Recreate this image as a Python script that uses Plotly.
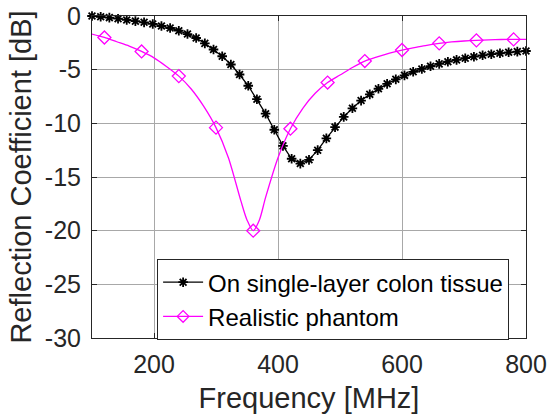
import plotly.graph_objects as go

# ---- data ----
colon_freq = [100 + 14 * i for i in range(51)]
colon_db = [0.0, -0.07, -0.15, -0.25, -0.37, -0.48, -0.59, -0.74, -0.93, -1.12,
            -1.37, -1.68, -2.05, -2.55, -3.12, -3.75, -4.52, -5.45, -6.5, -7.75,
            -9.1, -10.6, -12.1, -13.3, -13.75, -13.4, -12.5, -11.4, -10.35, -9.4,
            -8.6, -7.88, -7.3, -6.78, -6.32, -5.9, -5.53, -5.2, -4.93, -4.68,
            -4.46, -4.26, -4.09, -3.93, -3.79, -3.66, -3.56, -3.47, -3.38, -3.32,
            -3.26]

phantom_line_freq = [100, 120, 140, 160, 180, 200, 220, 240, 260, 280, 300, 320,
                     340, 350, 360, 370, 380, 400, 420, 440, 460, 480, 500, 520,
                     540, 560, 580, 600, 620, 640, 660, 680, 700, 720, 740, 760,
                     780, 800]
phantom_line_db = [-1.68, -2.0, -2.4, -2.8, -3.3, -3.9, -4.7, -5.6, -6.8, -8.4,
                   -10.4, -13.2, -17.2, -19.0, -20.0, -19.0, -16.9, -13.2, -10.5,
                   -8.6, -7.2, -6.2, -5.5, -4.8, -4.2, -3.8, -3.45, -3.17, -2.95,
                   -2.73, -2.55, -2.42, -2.33, -2.27, -2.22, -2.19, -2.18, -2.17]

phantom_mark_freq = [120, 180, 240, 300, 360, 420, 480, 540, 600, 660, 720, 780]
phantom_mark_db = [-2.0, -3.3, -5.6, -10.4, -20.0, -10.5, -6.2, -4.2, -3.17,
                   -2.55, -2.27, -2.18]

x_ticks = [200, 400, 600, 800]
x_tick_labels = ["200", "400", "600", "800"]
y_ticks = [0, -5, -10, -15, -20, -25, -30]
y_tick_labels = ["0", "-5", "-10", "-15", "-20", "-25", "-30"]

series_names = ["On single-layer colon tissue", "Realistic phantom"]

FONT = "Liberation Sans, Arial, Helvetica, sans-serif"
AX = "#262626"

fig = go.Figure()

fig.add_trace(go.Scatter(
    x=colon_freq, y=colon_db, mode="lines+markers", name=series_names[0],
    line=dict(color="black", width=1.3),
    marker=dict(symbol="asterisk-open", size=8, color="black",
                line=dict(color="black", width=1.8)),
    cliponaxis=False))

fig.add_trace(go.Scatter(
    x=phantom_line_freq, y=phantom_line_db, mode="lines", showlegend=False,
    line=dict(color="#FF00FF", width=1.3, shape="spline", smoothing=0.8),
    hoverinfo="skip"))

fig.add_trace(go.Scatter(
    x=phantom_mark_freq, y=phantom_mark_db, mode="markers", showlegend=False,
    marker=dict(symbol="diamond-open", size=10, color="#FF00FF",
                line=dict(color="#FF00FF", width=1.3)),
    cliponaxis=False))

# legend entry for the phantom (line + diamond)
fig.add_trace(go.Scatter(
    x=[None], y=[None], mode="lines+markers", name=series_names[1],
    line=dict(color="#FF00FF", width=1.3),
    marker=dict(symbol="diamond-open", size=9, color="#FF00FF",
                line=dict(color="#FF00FF", width=1.3))))

axis_common = dict(
    showline=True, linecolor=AX, linewidth=1, mirror="ticks",
    ticks="inside", ticklen=5, tickcolor=AX, tickwidth=1,
    showgrid=True, gridcolor="#a8a8a8", gridwidth=1,
    zeroline=False, automargin=False,
    tickfont=dict(family=FONT, size=25, color=AX),
)

fig.update_layout(
    width=549, height=418,
    margin=dict(l=92, r=23, t=16, b=80),
    paper_bgcolor="white", plot_bgcolor="white",
    font=dict(family=FONT, color=AX),
    xaxis=dict(range=[100, 800], tickvals=x_ticks, ticktext=x_tick_labels,
               ticklabelstandoff=4,
               title=dict(text="Frequency [MHz]", font=dict(family=FONT, size=29, color=AX), standoff=10),
               **axis_common),
    yaxis=dict(range=[-30, 0], tickvals=y_ticks, ticktext=y_tick_labels,
               ticklabelstandoff=5,
               title=dict(text="Reflection Coefficient [dB]", font=dict(family=FONT, size=29, color=AX), standoff=4),
               **axis_common),
    legend=dict(x=0.15, y=0.245, xanchor="left", yanchor="top",
                bgcolor="white", bordercolor=AX, borderwidth=1,
                font=dict(family=FONT, size=24, color="black"),
                tracegroupgap=0, itemwidth=40),
    showlegend=True,
)

fig.write_html("out.html", config={"displayModeBar": False},
               post_script="document.body.style.margin='0';")
